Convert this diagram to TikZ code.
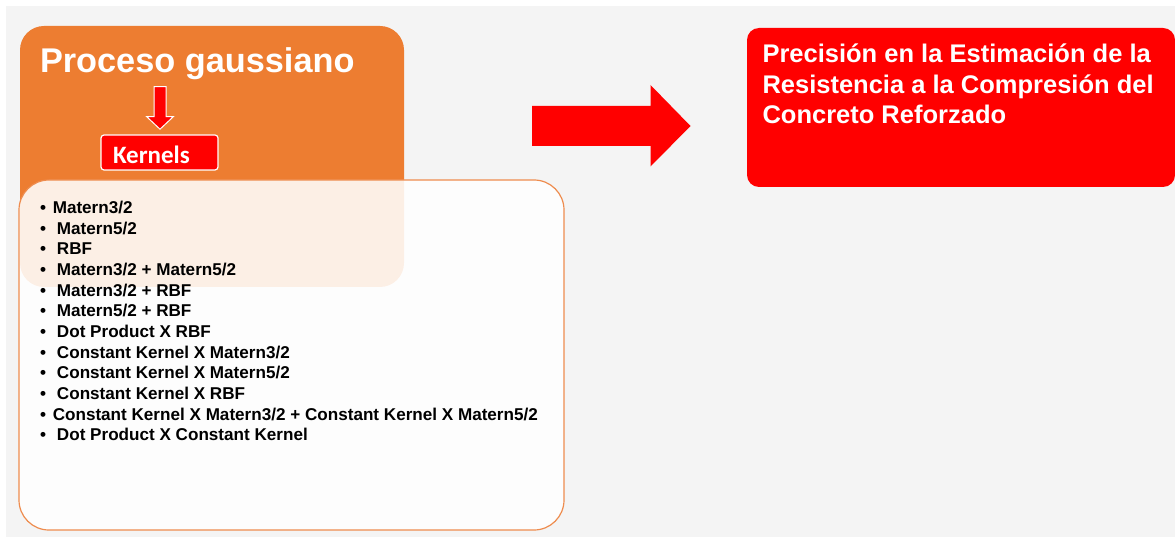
\documentclass[tikz,border=0pt]{standalone}
\usepackage{fontspec}
\setmainfont{Liberation Sans}
\newfontfamily\calib{Carlito}
\definecolor{bggray}{HTML}{F4F4F4}
\definecolor{gporange}{HTML}{ED7D31}
\definecolor{edgeorange}{HTML}{EE8C4E}
\definecolor{boxred}{HTML}{FF0000}
\newcommand\kitem[2]{\makebox[#1pt][l]{\textbullet}#2}
\tikzset{
  txt/.style={inner sep=0pt, outer sep=0pt, anchor=base west},
  listtxt/.style={txt, font=\fontsize{17.1}{20}\selectfont\bfseries, text=black},
  redtxt/.style={txt, font=\fontsize{25.5}{30}\selectfont\bfseries, text=white},
  blockarrow/.style={fill=boxred, draw=white, line width=1pt, line join=miter},
}
\begin{document}
\begin{tikzpicture}[x=1pt,y=-1pt]
\useasboundingbox (0,0) rectangle (1175,537);
\fill[bggray] (6,6) rectangle (1175,537);
% orange process box
\fill[gporange, rounded corners=24pt] (20,26) rectangle (404,287);
\node[txt, font=\fontsize{34.3}{40}\selectfont\bfseries, text=white] (title) at (40,72.7) {Proceso gaussiano};
% down arrow
\draw[blockarrow] (154,86.7) -- (166,86.7) -- (166,116.7) -- (173.3,116.7) -- (160,129.2) -- (146.7,116.7) -- (154,116.7) -- cycle;
% Kernels box
\draw[fill=boxred, draw=white, line width=1.2pt, rounded corners=3pt] (101,135) rectangle (218,170);
\node[txt, font=\calib\fontsize{25}{30}\selectfont\bfseries, text=white] (kern) at (113,163.3) {Kernels};
% white list box (semi transparent)
\draw[fill=white, fill opacity=0.88, draw=edgeorange, line width=1.2pt, rounded corners=30pt] (19,180) rectangle (564,530);
\node[listtxt] (k1) at (40,213.6) {\kitem{12.8}{Matern3/2}};
\node[listtxt] (k2) at (40,234.2) {\kitem{17}{Matern5/2}};
\node[listtxt] (k3) at (40,254.9) {\kitem{17}{RBF}};
\node[listtxt] (k4) at (40,275.5) {\kitem{17}{Matern3/2 + Matern5/2}};
\node[listtxt] (k5) at (40,296.2) {\kitem{17}{Matern3/2 + RBF}};
\node[listtxt] (k6) at (40,316.8) {\kitem{17}{Matern5/2 + RBF}};
\node[listtxt] (k7) at (40,337.4) {\kitem{17}{Dot Product X RBF}};
\node[listtxt] (k8) at (40,358.1) {\kitem{17}{Constant Kernel X Matern3/2}};
\node[listtxt] (k9) at (40,378.7) {\kitem{17}{Constant Kernel X Matern5/2}};
\node[listtxt] (k10) at (40,399.4) {\kitem{17}{Constant Kernel X RBF}};
\node[listtxt] (k11) at (40,420.0) {\kitem{12.8}{Constant Kernel X Matern3/2 + Constant Kernel X Matern5/2}};
\node[listtxt] (k12) at (40,440.6) {\kitem{17}{Dot Product X Constant Kernel}};
% big right arrow
\fill[boxred] (532,106) -- (650.5,106) -- (650.5,85) -- (690.5,126) -- (650.5,166.5) -- (650.5,146) -- (532,146) -- cycle;
% result box
\fill[boxred, rounded corners=12pt] (747,28) rectangle (1175,187);
\node[redtxt] (r1) at (762.5,63) {Precisión en la Estimación de la};
\node[redtxt] (r2) at (762.5,93.5) {Resistencia a la Compresión del};
\node[redtxt] (r3) at (762.5,124) {Concreto Reforzado};
\end{tikzpicture}
\end{document}
